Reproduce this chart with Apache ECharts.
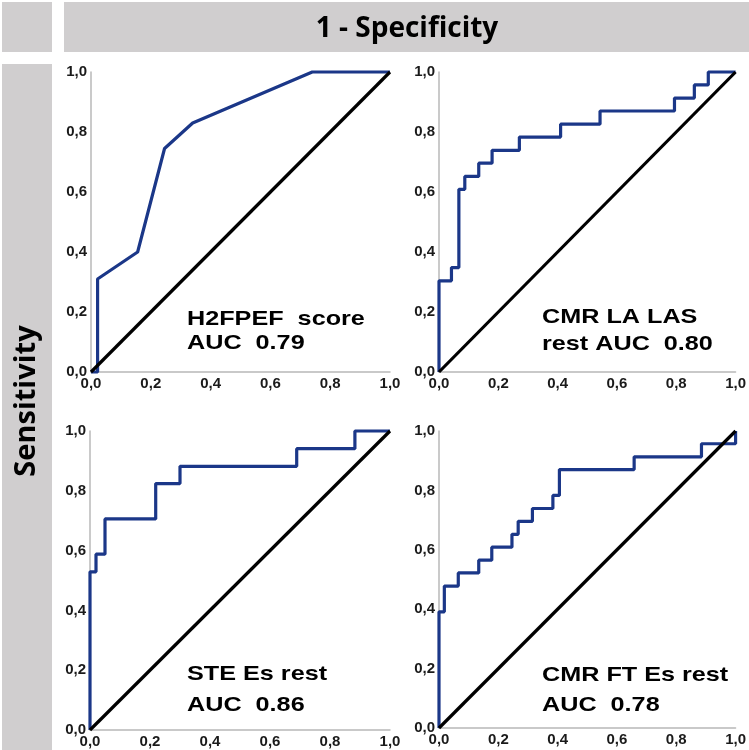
<!DOCTYPE html>
<html>
<head>
<meta charset="utf-8">
<script src="https://cdn.jsdelivr.net/npm/echarts@6/dist/echarts.min.js"></script>
<style>
html,body{margin:0;padding:0;background:#fff;}
#main{width:749px;height:750px;}
</style>
</head>
<body>
<div id="main"></div>
<script>
// ---- data ----
const tickValues = [0, 0.2, 0.4, 0.6, 0.8, 1.0];
const diagX = [0, 1];
const diagY = [0, 1];

const h2fpefX = [0, 0.022, 0.022, 0.156, 0.246, 0.34, 0.74, 1];
const h2fpefY = [0, 0, 0.31, 0.40, 0.745, 0.83, 1, 1];

const laLasX = [0, 0, 0.042, 0.042, 0.067, 0.067, 0.087, 0.087, 0.134, 0.134, 0.179, 0.179, 0.271, 0.271, 0.41, 0.41, 0.543, 0.543, 0.794, 0.794, 0.861, 0.861, 0.908, 0.908, 1];
const laLasY = [0, 0.304, 0.304, 0.348, 0.348, 0.609, 0.609, 0.652, 0.652, 0.696, 0.696, 0.739, 0.739, 0.783, 0.783, 0.826, 0.826, 0.870, 0.870, 0.913, 0.913, 0.957, 0.957, 1, 1];

const steX = [0, 0, 0.02, 0.02, 0.05, 0.05, 0.219, 0.219, 0.30, 0.30, 0.689, 0.689, 0.883, 0.883, 1];
const steY = [0, 0.529, 0.529, 0.588, 0.588, 0.706, 0.706, 0.824, 0.824, 0.882, 0.882, 0.941, 0.941, 1, 1];

const ftX = [0, 0, 0.018, 0.018, 0.065, 0.065, 0.134, 0.134, 0.178, 0.178, 0.246, 0.246, 0.267, 0.267, 0.315, 0.315, 0.384, 0.384, 0.406, 0.406, 0.658, 0.658, 0.885, 0.885, 1, 1];
const ftY = [0, 0.391, 0.391, 0.478, 0.478, 0.522, 0.522, 0.565, 0.565, 0.609, 0.609, 0.652, 0.652, 0.696, 0.696, 0.739, 0.739, 0.783, 0.783, 0.870, 0.870, 0.913, 0.913, 0.957, 0.957, 1];

const panelLabels = [
  ['H2FPEF  score', 'AUC  0.79'],
  ['CMR LA LAS', 'rest AUC  0.80'],
  ['STE Es rest', 'AUC  0.86'],
  ['CMR FT Es rest', 'AUC  0.78']
];
const headerText = '1 - Specificity';
const sideText = 'Sensitivity';

// ---- layout ----
const grids = [
  {left: 91, top: 72, width: 299, height: 300},
  {left: 439, top: 72, width: 299, height: 300},
  {left: 90, top: 431, width: 300, height: 299},
  {left: 439, top: 431, width: 299, height: 297}
];
const labelPos = [
  [187, 319, 343],
  [542, 317, 344],
  [187, 674, 705],
  [542, 675, 705]
];
const curves = [[h2fpefX, h2fpefY], [laLasX, laLasY], [steX, steY], [ftX, ftY]];

const zip = (a, b) => a.map((v, i) => [v, b[i]]);
const fmt = v => v.toFixed(1).replace('.', ',');
const BLUE = '#1b3788';
const GRAY = '#d0cecf';
const FONT = 'Liberation Sans, Arial, sans-serif';

const xAxis = [], yAxis = [], series = [];
grids.forEach((g, i) => {
  const axisCommon = {
    type: 'value', min: 0, max: 1, interval: 0.2, gridIndex: i,
    axisLine: {show: true, lineStyle: {color: '#b8b8b8', width: 1.5}},
    axisTick: {show: false},
    splitLine: {show: false},
    axisLabel: {formatter: fmt, color: '#1a1a1a', fontWeight: 'bold', fontSize: 15, fontFamily: FONT}
  };
  xAxis.push(Object.assign({}, axisCommon, {axisLabel: Object.assign({}, axisCommon.axisLabel, {margin: 4})}));
  yAxis.push(Object.assign({}, axisCommon, {axisLabel: Object.assign({}, axisCommon.axisLabel, {margin: 4})}));
  series.push({
    type: 'line', xAxisIndex: i, yAxisIndex: i, data: zip(curves[i][0], curves[i][1]),
    symbol: 'none', clip: false, lineStyle: {color: BLUE, width: 3.2}, z: 2
  });
  series.push({
    type: 'line', xAxisIndex: i, yAxisIndex: i, data: zip(diagX, diagY),
    symbol: 'none', clip: false, lineStyle: {color: '#000', width: 3.2}, z: 3
  });
});

const graphic = [
  {type: 'rect', shape: {x: 2, y: 2, width: 50, height: 50}, style: {fill: GRAY}, z: -10},
  {type: 'rect', shape: {x: 64, y: 2, width: 685, height: 50}, style: {fill: GRAY}, z: -10},
  {type: 'rect', shape: {x: 2, y: 64, width: 50, height: 686}, style: {fill: GRAY}, z: -10},
  {type: 'text', x: 407, y: 29, style: {text: headerText, font: 'bold 28px "Open Sans", sans-serif', fill: '#000', textAlign: 'center', textVerticalAlign: 'middle'}},
  {type: 'text', x: 27, y: 401, rotation: Math.PI / 2, style: {text: sideText, font: 'bold 29px "Open Sans", sans-serif', fill: '#000', textAlign: 'center', textVerticalAlign: 'middle'}}
];
panelLabels.forEach((lines, i) => {
  const p = labelPos[i];
  lines.forEach((t, j) => {
    graphic.push({type: 'text', x: p[0], y: p[1 + j], scaleX: 1.2,
      style: {text: t, font: 'bold 21px ' + FONT, fill: '#000', textAlign: 'left', textVerticalAlign: 'middle'}, z: 10});
  });
});

const chart = echarts.init(document.getElementById('main'), null, {renderer: 'canvas'});
chart.setOption({
  animation: false,
  backgroundColor: '#fff',
  grid: grids,
  xAxis: xAxis,
  yAxis: yAxis,
  series: series,
  graphic: graphic
});
</script>
</body>
</html>
